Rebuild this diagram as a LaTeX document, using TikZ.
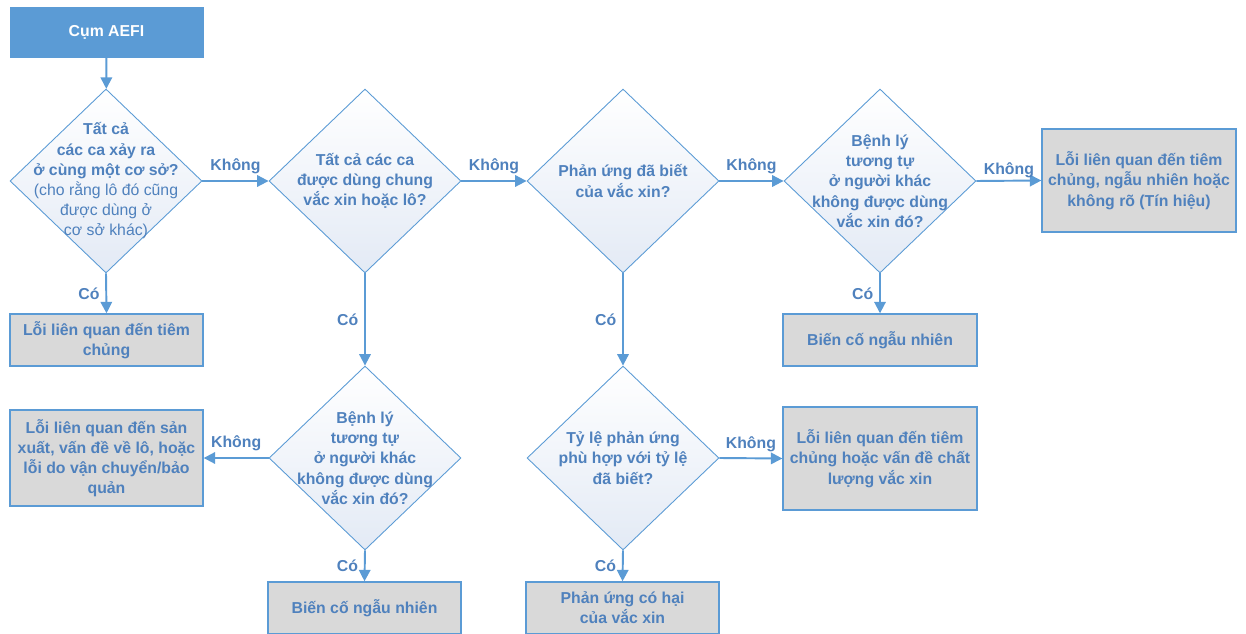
\documentclass[tikz,border=0pt]{standalone}
\usepackage{fontspec}
\setmainfont{Liberation Sans}
\usetikzlibrary{shapes.geometric,arrows.meta}
\definecolor{aefiblue}{HTML}{5B9BD5}
\definecolor{aefitext}{HTML}{4F81BD}
\definecolor{aefigray}{HTML}{D9D9D9}
\definecolor{aefitint}{HTML}{E3EAF5}
\tikzset{
  startbox/.style={draw=aefiblue,fill=aefiblue,text=white,font=\bfseries\fontsize{9}{11.5}\selectfont,minimum width=3.86cm,minimum height=1cm,inner sep=0},
  endbox/.style={draw=aefiblue,line width=0.8pt,fill=aefigray,text=aefitext,font=\bfseries\fontsize{9}{11.5}\selectfont,align=center,minimum width=3.86cm,minimum height=1.04cm,inner sep=0},
  decision/.style={diamond,draw=aefiblue,line width=0.5pt,top color=white,bottom color=aefitint,minimum width=3.84cm,minimum height=3.68cm,inner sep=0},
  dectext/.style={text=aefitext,font=\bfseries\fontsize{9}{11.5}\selectfont,align=center},
  answer/.style={text=aefitext,font=\bfseries\fontsize{9}{11.5}\selectfont},
  flow/.style={draw=aefiblue,line width=1.1pt,-{Triangle[length=6.5pt,width=6.5pt]}}
}
\begin{document}
\begin{tikzpicture}[x=0.02cm,y=-0.02cm]
	\useasboundingbox (0,0) rectangle (1246,634);
	\node[startbox] (s) at (106.5,32) {Cụm AEFI};
	\node[decision,label={[dectext]center:{Tất cả\\các ca xảy ra\\ở cùng một cơ sở?\\\mdseries(cho rằng lô đó cũng\\\mdseries được dùng ở\\\mdseries cơ sở khác)}}] (q1) at (106,181) {};
	\node[decision,label={[dectext]center:{Tất cả các ca\\được dùng chung\\vắc xin hoặc lô?}}] (q2) at (365,181) {};
	\node[decision,label={[dectext]center:{Phản ứng đã biết\\của vắc xin?}}] (q3) at (623,181) {};
	\node[decision,label={[dectext]center:{Bệnh lý\\tương tự\\ở người khác\\không được dùng\\vắc xin đó?}}] (q4) at (880,181) {};
	\node[decision,label={[dectext]center:{Bệnh lý\\tương tự\\ở người khác\\không được dùng\\vắc xin đó?}}] (q5) at (365,458) {};
	\node[decision,label={[dectext]center:{Tỷ lệ phản ứng\\phù hợp với tỷ lệ\\đã biết?}}] (q6) at (623,458) {};
	\node[endbox] (r1) at (106.5,340) {Lỗi liên quan đến tiêm\\chủng};
	\node[endbox,minimum height=1.92cm] (r2) at (106.5,458) {Lỗi liên quan đến sản\\xuất, vấn đề về lô, hoặc\\lỗi do vận chuyển/bảo\\quản};
	\node[endbox] (r3) at (364.5,608) {Biến cố ngẫu nhiên};
	\node[endbox] (r4) at (622.5,608) {Phản ứng có hại\\của vắc xin};
	\node[endbox,minimum width=3.88cm,minimum height=2.06cm] (r5) at (880,458.5) {Lỗi liên quan đến tiêm\\chủng hoặc vấn đề chất\\lượng vắc xin};
	\node[endbox,minimum width=3.88cm] (r6) at (880,340) {Biến cố ngẫu nhiên};
	\node[endbox,minimum width=3.88cm,minimum height=2.06cm] (r7) at (1139,180.5) {Lỗi liên quan đến tiêm\\chủng, ngẫu nhiên hoặc\\không rõ (Tín hiệu)};
	\draw[flow] (s) -- (q1);
	\draw[flow] (q1.east) -- node[answer,above] {Không} (q2.west);
	\draw[flow] (q2.east) -- node[answer,above] {Không} (q3.west);
	\draw[flow] (q3.east) -- node[answer,above] {Không} (q4.west);
	\draw[flow] (q4.east) -- node[answer,above,inner sep=1pt] {Không} (r7.west);
	\draw[flow] (q1.south) -- node[answer,left] {Có} (r1.north);
	\draw[flow] (q2.south) -- node[answer,left] {Có} (q5.north);
	\draw[flow] (q3.south) -- node[answer,left] {Có} (q6.north);
	\draw[flow] (q4.south) -- node[answer,left] {Có} (r6.north);
	\draw[flow] (q5.west) -- node[answer,above] {Không} (r2.east);
	\draw[flow] (q5.south) -- node[answer,left] {Có} (r3.north);
	\draw[flow] (q6.east) -- node[answer,above] {Không} (r5.west);
	\draw[flow] (q6.south) -- node[answer,left] {Có} (r4.north);
\end{tikzpicture}
\end{document}
